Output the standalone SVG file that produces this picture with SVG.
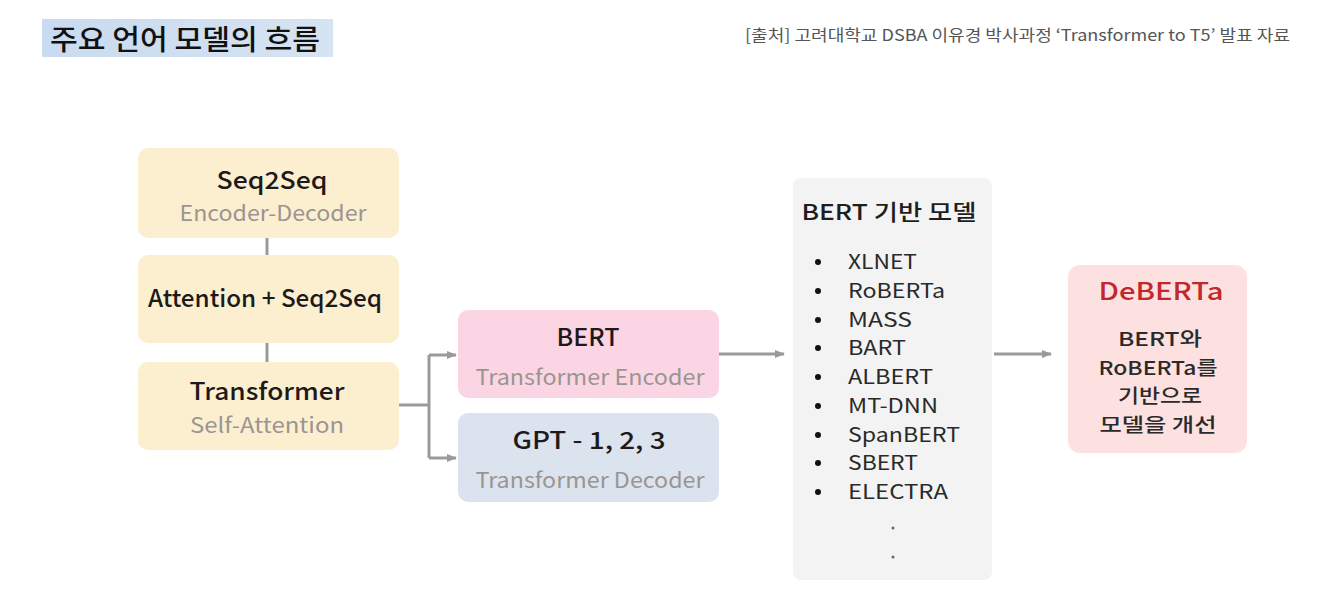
<svg xmlns="http://www.w3.org/2000/svg" width="1328" height="601" viewBox="0 0 1328 601">
<defs>
<marker id="arr" viewBox="0 0 10 10" refX="9" refY="5" markerWidth="10" markerHeight="10" markerUnits="userSpaceOnUse" orient="auto">
<path d="M0,1 L10,5 L0,9 z" fill="#9a9a9a"/>
</marker>
<linearGradient id="hl" x1="0" y1="0" x2="1" y2="0">
<stop offset="0" stop-color="#c9dbf0"/>
<stop offset="1" stop-color="#d6e3f2"/>
</linearGradient>
<style>
text{font-family:"Noto Sans CJK KR","Noto Sans",sans-serif;}
.main{font-size:24px;fill:#1e1a1a;text-anchor:middle;font-weight:500;}
.sub{font-size:21px;fill:#9a9590;text-anchor:middle;}
.yel{fill:#fcefd0;}
.item{font-size:20px;fill:#2a2a2a;}
.line{stroke:#9a9a9a;stroke-width:3;fill:none;}
</style>
</defs>
<rect width="1328" height="601" fill="#ffffff"/>
<g id="title">
<rect x="42" y="19" width="291" height="38" fill="url(#hl)"/>
<text x="50" y="50" font-size="28" font-weight="500" fill="#111" textLength="270" lengthAdjust="spacingAndGlyphs">주요 언어 모델의 흐름</text>
</g>
<g id="source">
<text x="1290" y="41" font-size="16" fill="#555" text-anchor="end" textLength="545" lengthAdjust="spacingAndGlyphs">[출처] 고려대학교 DSBA 이유경 박사과정 ‘Transformer to T5’ 발표 자료</text>
</g>
<g id="connectors">
<line class="line" x1="267" y1="238" x2="267" y2="255"/>
<line class="line" x1="267" y1="343" x2="267" y2="362"/>
<polyline class="line" points="398,405 429,405"/>
<polyline class="line" points="429,355 429,458"/>
<line class="line" x1="429" y1="355" x2="456" y2="355" marker-end="url(#arr)"/>
<line class="line" x1="429" y1="458" x2="456" y2="458" marker-end="url(#arr)"/>
<line class="line" x1="719" y1="354" x2="784" y2="354" marker-end="url(#arr)"/>
<line class="line" x1="994" y1="354" x2="1051" y2="354" marker-end="url(#arr)"/>
</g>
<g id="seq2seq">
<rect class="yel" x="138" y="148" width="261" height="90" rx="10"/>
<text class="main" x="272" y="189" textLength="111" lengthAdjust="spacingAndGlyphs">Seq2Seq</text>
<text class="sub" x="273" y="221" textLength="187" lengthAdjust="spacingAndGlyphs">Encoder-Decoder</text>
</g>
<g id="attention">
<rect class="yel" x="138" y="255" width="261" height="88" rx="10"/>
<text class="main" x="265" y="307" font-size="22" textLength="234" lengthAdjust="spacingAndGlyphs">Attention + Seq2Seq</text>
</g>
<g id="transformer">
<rect class="yel" x="138" y="362" width="261" height="88" rx="10"/>
<text class="main" x="267" y="400" textLength="155" lengthAdjust="spacingAndGlyphs">Transformer</text>
<text class="sub" x="267" y="433" textLength="154" lengthAdjust="spacingAndGlyphs">Self-Attention</text>
</g>
<g id="bert">
<rect x="458" y="310" width="261" height="88" rx="10" fill="#fbd5e4"/>
<text class="main" x="588" y="346" textLength="63" lengthAdjust="spacingAndGlyphs">BERT</text>
<text class="sub" x="590" y="385" textLength="229" lengthAdjust="spacingAndGlyphs">Transformer Encoder</text>
</g>
<g id="gpt">
<rect x="458" y="413" width="261" height="89" rx="10" fill="#dbe3ef"/>
<text class="main" x="589" y="449" textLength="153" lengthAdjust="spacingAndGlyphs">GPT - 1, 2, 3</text>
<text class="sub" x="590" y="488" textLength="229" lengthAdjust="spacingAndGlyphs">Transformer Decoder</text>
</g>
<g id="bert-based">
<rect x="793" y="178" width="199" height="402" rx="8" fill="#f3f3f3"/>
<text x="889" y="220" font-size="22" fill="#1e1e1e" text-anchor="middle" font-weight="500" textLength="175" lengthAdjust="spacingAndGlyphs">BERT 기반 모델</text>
<g fill="#111">
<circle cx="818" cy="262" r="3"/>
<circle cx="818" cy="291" r="3"/>
<circle cx="818" cy="320" r="3"/>
<circle cx="818" cy="348" r="3"/>
<circle cx="818" cy="377" r="3"/>
<circle cx="818" cy="406" r="3"/>
<circle cx="818" cy="435" r="3"/>
<circle cx="818" cy="463" r="3"/>
<circle cx="818" cy="492" r="3"/>
<circle cx="893" cy="528" r="1.5" fill="#666"/>
<circle cx="893" cy="557" r="1.5" fill="#666"/>
</g>
<text class="item" x="848" y="269" textLength="69" lengthAdjust="spacingAndGlyphs">XLNET</text>
<text class="item" x="848" y="298" textLength="97" lengthAdjust="spacingAndGlyphs">RoBERTa</text>
<text class="item" x="848" y="327" textLength="64" lengthAdjust="spacingAndGlyphs">MASS</text>
<text class="item" x="848" y="355" textLength="58" lengthAdjust="spacingAndGlyphs">BART</text>
<text class="item" x="848" y="384" textLength="85" lengthAdjust="spacingAndGlyphs">ALBERT</text>
<text class="item" x="848" y="413" textLength="90" lengthAdjust="spacingAndGlyphs">MT-DNN</text>
<text class="item" x="848" y="442" textLength="112" lengthAdjust="spacingAndGlyphs">SpanBERT</text>
<text class="item" x="848" y="470" textLength="70" lengthAdjust="spacingAndGlyphs">SBERT</text>
<text class="item" x="848" y="499" textLength="100" lengthAdjust="spacingAndGlyphs">ELECTRA</text>
</g>
<g id="deberta">
<rect x="1068" y="265" width="179" height="188" rx="12" fill="#fde1e0"/>
<text x="1161" y="300" font-size="24" fill="#c0282d" text-anchor="middle" font-weight="500" textLength="125" lengthAdjust="spacingAndGlyphs">DeBERTa</text>
<g font-size="19" fill="#2a2a2a" text-anchor="middle" font-weight="500">
<text x="1160" y="346" textLength="84" lengthAdjust="spacingAndGlyphs">BERT와</text>
<text x="1158" y="375" textLength="119" lengthAdjust="spacingAndGlyphs">RoBERTa를</text>
<text x="1160" y="403" textLength="84" lengthAdjust="spacingAndGlyphs">기반으로</text>
<text x="1158" y="432" textLength="117" lengthAdjust="spacingAndGlyphs">모델을 개선</text>
</g>
</g>
</svg>
